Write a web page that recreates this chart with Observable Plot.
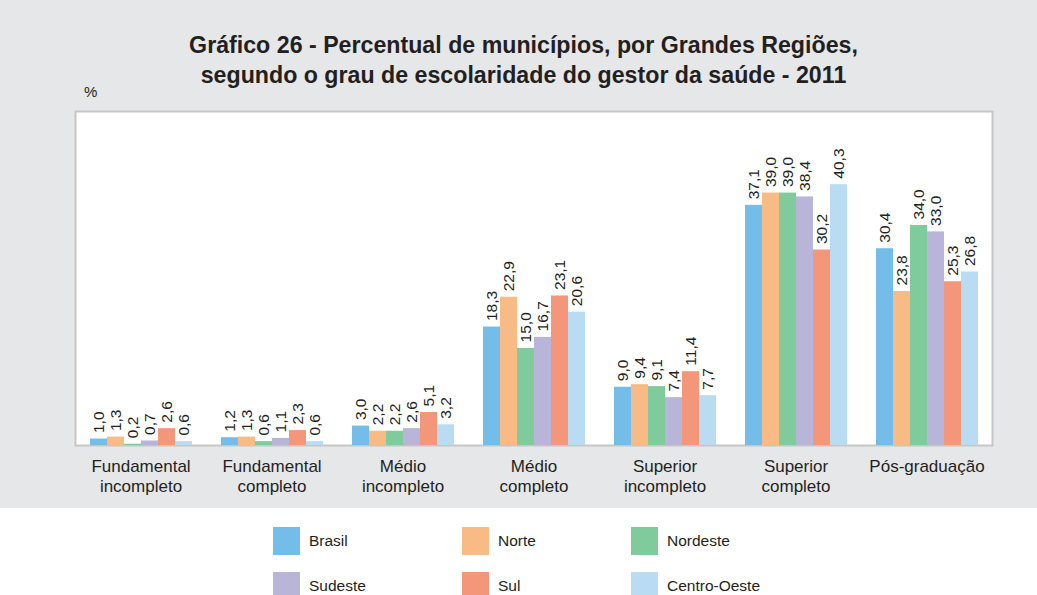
<!DOCTYPE html>
<html>
<head>
<meta charset="utf-8">
<script src="https://cdn.jsdelivr.net/npm/d3@7"></script>
<script src="https://cdn.jsdelivr.net/npm/@observablehq/plot@0.6"></script>
<style>
  html, body { margin: 0; padding: 0; background: #ffffff; font-family: "Liberation Sans", Arial, sans-serif; color: #231f20; }
  #wrap { width: 1037px; }
  #panel { width: 1037px; height: 508px; background: #e6e7e9; position: relative; }
  #head { position: relative; height: 100px; }
  .t { position: absolute; left: 0; width: 1047px; text-align: center; font-weight: bold; font-size: 23.2px; line-height: 30px; }
  #pct { position: absolute; left: 84px; top: 83px; font-size: 15px; }
  #legend { position: relative; height: 87px; }
  .li { position: absolute; display: flex; align-items: center; font-size: 15.5px; }
  .sw { width: 27px; height: 28px; margin-right: 9px; }
</style>
</head>
<body>
<div id="wrap">
  <div id="panel">
    <div id="head">
      <div class="t" style="top:30px">Gráfico 26 - Percentual de municípios, por Grandes Regiões,</div>
      <div class="t" style="top:60px">segundo o grau de escolaridade do gestor da saúde - 2011</div>
      <div id="pct">%</div>
    </div>
    <div id="chart"></div>
  </div>
  <div id="legend"></div>
</div>
<script>
const categories = ["Fundamental\nincompleto", "Fundamental\ncompleto", "Médio\nincompleto", "Médio\ncompleto", "Superior\nincompleto", "Superior\ncompleto", "Pós-graduação"];
const seriesNames = ["Brasil", "Norte", "Nordeste", "Sudeste", "Sul", "Centro-Oeste"];
const seriesColors = ["#74bde8", "#f9bb85", "#80cb9b", "#b9b5d9", "#f4967a", "#b9dcf3"];
const brasil      = [1.0, 1.2, 3.0, 18.3, 9.0, 37.1, 30.4];
const norte       = [1.3, 1.3, 2.2, 22.9, 9.4, 39.0, 23.8];
const nordeste    = [0.2, 0.6, 2.2, 15.0, 9.1, 39.0, 34.0];
const sudeste     = [0.7, 1.1, 2.6, 16.7, 7.4, 38.4, 33.0];
const sul         = [2.6, 2.3, 5.1, 23.1, 11.4, 30.2, 25.3];
const centroOeste = [0.6, 0.6, 3.2, 20.6, 7.7, 40.3, 26.8];

const seriesValues = [brasil, norte, nordeste, sudeste, sul, centroOeste];
const data = [];
categories.forEach((c, i) => {
  seriesNames.forEach((s, j) => {
    data.push({cat: c, series: s, value: seriesValues[j][i]});
  });
});
const fmt = v => v.toFixed(1).replace(".", ",");

const chart = Plot.plot({
  width: 1037,
  height: 408,
  marginTop: 11,
  marginBottom: 63,
  marginLeft: 75,
  marginRight: 45,
  style: { background: "transparent", fontFamily: "Liberation Sans, Arial, sans-serif", fontSize: "17px", color: "#231f20" },
  fx: { domain: categories, paddingInner: 0.2, paddingOuter: 0.1, label: null, axis: null },
  x: { domain: seriesNames, padding: 0, axis: null },
  y: { domain: [0, 51.6], axis: null },
  color: { domain: seriesNames, range: seriesColors },
  marks: [
    Plot.frame({ facet: "super", fill: "white", stroke: "#c6c6c6", strokeWidth: 2, insetLeft: -13, insetRight: -13 }),
    Plot.axisFx({ anchor: "bottom", tickSize: 0, tickPadding: 12, label: null, fontSize: 17, lineHeight: 1.18, fill: "#231f20" }),
    Plot.barY(data, { fx: "cat", x: "series", y: "value", fill: "series" }),
    Plot.text(data, { fx: "cat", x: "series", y: "value", text: d => fmt(d.value), rotate: -90, textAnchor: "start", lineAnchor: "middle", dy: -6, fontSize: 15.5, fill: "#231f20" })
  ]
});
document.getElementById("chart").appendChild(chart);

// legend
const legend = document.getElementById("legend");
const colX = [273, 462, 631];
const rowY = [19, 64];
seriesNames.forEach((s, i) => {
  const d = document.createElement("div");
  d.className = "li";
  d.style.left = colX[i % 3] + "px";
  d.style.top = rowY[Math.floor(i / 3)] + "px";
  d.innerHTML = `<div class="sw" style="background:${seriesColors[i]}"></div><span>${s}</span>`;
  legend.appendChild(d);
});
</script>
</body>
</html>
